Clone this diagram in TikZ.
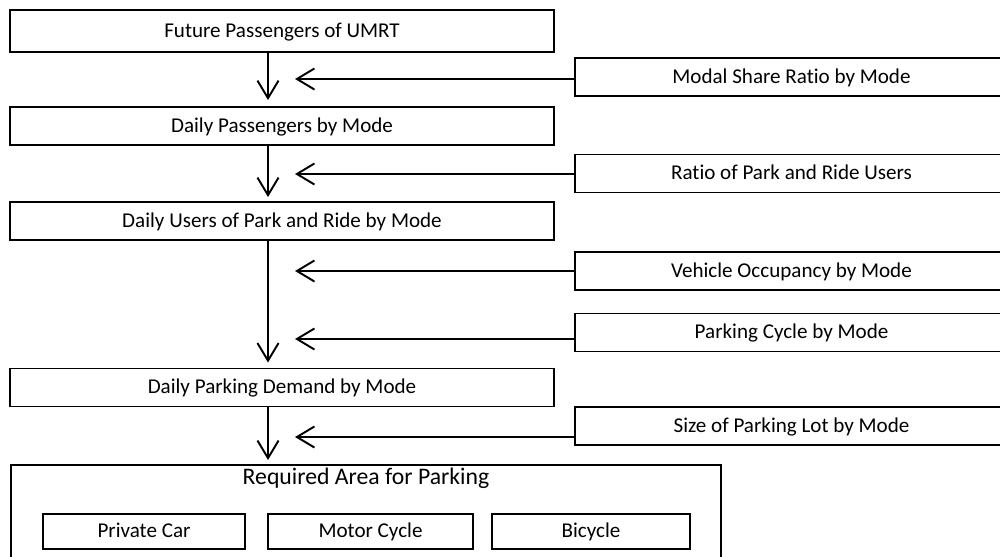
\documentclass[tikz,border=0pt]{standalone}
\usepackage{fontspec}
\setmainfont{Carlito}[Ligatures=NoCommon]
\usepackage{tikz}
\usetikzlibrary{positioning,calc,arrows.meta}

\begin{document}
\begin{tikzpicture}[x=0.02cm,y=-0.02cm,
    mainbox/.style={draw, line width=1.1pt, minimum width=10.88cm, minimum height=0.76cm, inner sep=0pt, text height=0.76em, text depth=0.06em, font=\fontsize{12}{14}\selectfont},
    inbox/.style={draw, line width=1.1pt, minimum width=8.66cm, minimum height=0.76cm, inner sep=0pt, text height=0.76em, text depth=0.06em, font=\fontsize{12}{14}\selectfont},
    modebox/.style={draw, line width=1.1pt, minimum height=0.7cm, inner sep=0pt, text height=0.76em, text depth=0.06em, font=\fontsize{12}{14}\selectfont},
    flow/.style={line width=1.1pt, -{Straight Barb[length=10pt,width=12pt,line width=1.1pt]}}]
    \useasboundingbox (0,0) rectangle (1000,557);

    % Main chain
    \node[mainbox, minimum height=0.84cm] (future) at (282,31) {Future Passengers of UMRT};
    \node[mainbox] (daily) at (282,126) {Daily Passengers by Mode};
    \node[mainbox] (parkride) at (282,221) {Daily Users of Park and Ride by Mode};
    \node[mainbox] (demand) at (282,387.5) {Daily Parking Demand by Mode};

    % Inputs
    \node[inbox] (modal) at (791.5,77) {Modal Share Ratio by Mode};
    \node[inbox] (ratio) at (791.5,173.5) {Ratio of Park and Ride Users};
    \node[inbox] (occupancy) at (791.5,271) {Vehicle Occupancy by Mode};
    \node[inbox] (pcycle) at (791.5,332.5) {Parking Cycle by Mode};
    \node[inbox] (lotsize) at (791.5,426) {Size of Parking Lot by Mode};

    % Required area
    \node[draw, line width=1.1pt, minimum width=14.2cm, minimum height=1.94cm, anchor=north] (area) at (366,464) {};
    \node[font=\fontsize{13.5}{16}\selectfont] (areatitle) at (366,478) {Required Area for Parking};
    \node[modebox, minimum width=4.04cm] (car) at (144,531.5) {Private Car};
    \node[modebox, minimum width=4.1cm] (motor) at (370.5,531.5) {Motor Cycle};
    \node[modebox, minimum width=3.96cm] (bicycle) at (591,531.5) {Bicycle};

    % Arrows
    \coordinate (spine) at (268,0);
    \coordinate (tip) at (295,0);
    \draw[flow] (future.south -| spine) -- ($(daily.north -| spine)+(0,-6)$);
    \draw[flow] (daily.south -| spine) -- ($(parkride.north -| spine)+(0,-4)$);
    \draw[flow] (parkride.south -| spine) -- ($(demand.north -| spine)+(0,-5)$);
    \draw[flow] (demand.south -| spine) -- ($(area.north -| spine)+(0,-4)$);

    \draw[flow] ($(modal.west)+(0,2)$) -- ($(modal.west -| tip)+(0,2)$);
    \draw[flow] ($(ratio.west)+(0,0.5)$) -- ($(ratio.west -| tip)+(0,0.5)$);
    \draw[flow] (occupancy.west) -- (occupancy.west -| tip);
    \draw[flow] ($(pcycle.west)+(0,6.5)$) -- ($(pcycle.west -| tip)+(0,6.5)$);
    \draw[flow] ($(lotsize.west)+(0,11)$) -- ($(lotsize.west -| tip)+(0,11)$);
\end{tikzpicture}
\end{document}
